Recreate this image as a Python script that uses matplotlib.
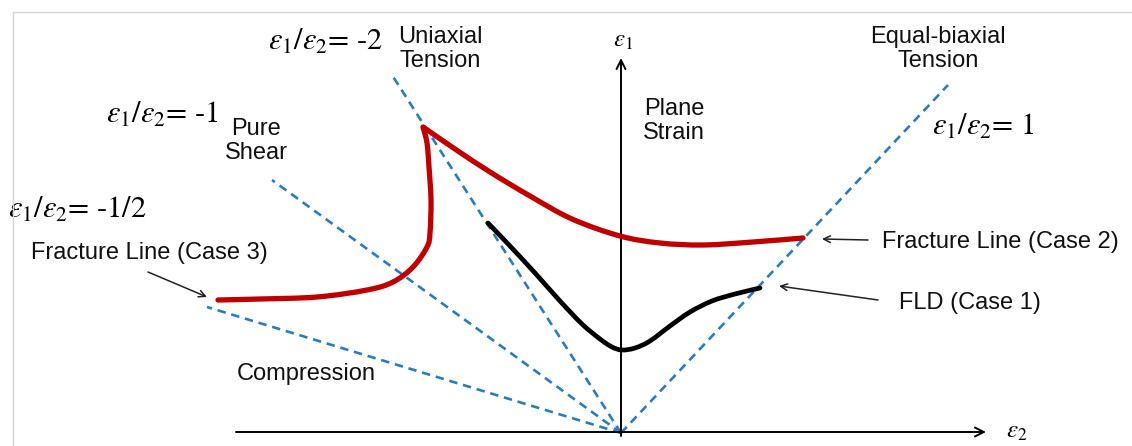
import matplotlib
matplotlib.use("Agg")
import numpy as np
import matplotlib.pyplot as plt
from matplotlib.lines import Line2D
from matplotlib.path import Path
from matplotlib.patches import PathPatch

plt.rcParams["mathtext.fontset"] = "stix"

# Strain-path rays from the origin: end points (eps2, eps1) and their ratio labels
ray_eps2 = [3.27, -2.29, -3.49, -4.14]
ray_eps1 = [3.48, 3.58, 2.53, 1.26]
ray_labels = [r"$\varepsilon_1/\varepsilon_2$= 1",
              r"$\varepsilon_1/\varepsilon_2$= -2",
              r"$\varepsilon_1/\varepsilon_2$= -1",
              r"$\varepsilon_1/\varepsilon_2$= -1/2"]

# Fracture line (cases 3 and 2), continuous through the uniaxial cusp
frac_eps2 = [-4.03, -3.61, -3.04, -2.54, -2.28, -2.08, -1.94, -1.91, -1.90,
             -1.92, -1.94, -1.98, -1.66, -1.31, -0.91, -0.49, -0.01, 0.39,
             0.82, 1.32, 1.82]
frac_eps1 = [1.33, 1.34, 1.36, 1.43, 1.51, 1.66, 1.86, 2.00, 2.33,
             2.66, 2.90, 3.06, 2.84, 2.61, 2.37, 2.14, 1.97, 1.90,
             1.88, 1.91, 1.95]
cusp_index = 11

# Forming limit curve (case 1)
fld_eps2 = [-1.33, -1.11, -0.86, -0.61, -0.39, -0.21, -0.09, 0.01, 0.14,
            0.29, 0.49, 0.69, 0.91, 1.14, 1.39]
fld_eps1 = [2.10, 1.87, 1.60, 1.32, 1.09, 0.94, 0.86, 0.83, 0.85,
            0.92, 1.07, 1.21, 1.32, 1.39, 1.45]


def spline_verts(xs, ys):
    """Cubic Bezier vertices of a Catmull-Rom curve through the given points."""
    pts = np.column_stack([xs, ys]).astype(float)
    n = len(pts)
    verts = [pts[0]]
    for i in range(n - 1):
        p0 = pts[i - 1] if i > 0 else pts[i]
        p1, p2 = pts[i], pts[i + 1]
        p3 = pts[i + 2] if i + 2 < n else pts[i + 1]
        verts += [p1 + (p2 - p0) / 6.0, p2 - (p3 - p1) / 6.0, p2]
    return verts


def curve_path(xs, ys, breaks=()):
    """Smooth path through the points, keeping sharp corners at `breaks`."""
    cuts = [0] + list(breaks) + [len(xs) - 1]
    verts = []
    for a, b in zip(cuts[:-1], cuts[1:]):
        part = spline_verts(xs[a:b + 1], ys[a:b + 1])
        verts += part if not verts else part[1:]
    codes = [Path.MOVETO] + [Path.CURVE4] * (len(verts) - 1)
    return Path(verts, codes)


fig = plt.figure(figsize=(11.32, 4.46), dpi=100)
ax = fig.add_axes([0, 0, 1, 1])
ax.set_xlim(-6.21, 5.11)
ax.set_ylim(-0.13, 4.33)
ax.axis("off")

# thin page frame along the top and left edges
fig.add_artist(Line2D([12.5 / 1132, 1], [1 - 11.5 / 446, 1 - 11.5 / 446],
                      transform=fig.transFigure, color="#d4d4d4", lw=1))
fig.add_artist(Line2D([12.5 / 1132, 12.5 / 1132], [0, 1 - 11.5 / 446],
                      transform=fig.transFigure, color="#d4d4d4", lw=1))

blue = "#2b7bbd"
for x_end, y_end in zip(ray_eps2, ray_eps1):
    ax.plot([0, x_end], [0, y_end], color=blue, lw=1.9,
            dashes=(3.2, 2.2), dash_capstyle="butt", zorder=2)

# strain axes
ax.annotate("", xy=(3.65, 0.01), xytext=(-3.85, 0.01),
            arrowprops=dict(arrowstyle="->", lw=1.4, color="black",
                            mutation_scale=16, shrinkA=0, shrinkB=0))
ax.annotate("", xy=(0.0, 3.75), xytext=(0.0, -0.03),
            arrowprops=dict(arrowstyle="->", lw=1.4, color="black",
                            mutation_scale=16, shrinkA=0, shrinkB=0))

ax.add_patch(PathPatch(curve_path(frac_eps2, frac_eps1, breaks=[cusp_index]),
                       fill=False, edgecolor="#c00000", lw=3.8,
                       joinstyle="round", capstyle="round", zorder=3))
ax.add_patch(PathPatch(curve_path(fld_eps2, fld_eps1),
                       fill=False, edgecolor="black", lw=3.4,
                       joinstyle="round", capstyle="round", zorder=3))

sans = dict(family="Liberation Sans", size=17, color="#111111")
serif = dict(family="STIXGeneral", size=22, color="black")

# ratio labels
ax.text(3.11, 3.06, ray_labels[0], ha="left", va="center", **serif)
ax.text(-3.53, 3.91, ray_labels[1], ha="left", va="center", **serif)
ax.text(-5.15, 3.18, ray_labels[2], ha="left", va="center", **serif)
ax.text(-6.13, 2.23, ray_labels[3], ha="left", va="center", **serif)

# axis symbols
ax.text(0.02, 3.92, r"$\varepsilon_1$", ha="center", va="center",
        family="STIXGeneral", size=18)
ax.text(3.96, 0.01, r"$\varepsilon_2$", ha="center", va="center",
        family="STIXGeneral", size=18)

# strain-state labels
ax.text(-1.81, 3.84, "Uniaxial\nTension", ha="center", va="center",
        linespacing=1.15, **sans)
ax.text(-3.65, 2.92, "Pure\nShear", ha="center", va="center",
        linespacing=1.15, **sans)
ax.text(0.53, 3.12, "Plane\nStrain", ha="center", va="center",
        linespacing=1.15, **sans)
ax.text(3.17, 3.84, "Equal-biaxial\nTension", ha="center", va="center",
        linespacing=1.15, **sans)
ax.text(-3.15, 0.59, "Compression", ha="center", va="center", **sans)

# curve callouts
ax.text(-4.72, 1.80, "Fracture Line (Case 3)", ha="center", va="center", **sans)
ax.text(2.61, 1.91, "Fracture Line (Case 2)", ha="left", va="center", **sans)
ax.text(2.78, 1.30, "FLD (Case 1)", ha="left", va="center", **sans)

callout = dict(arrowstyle="->", lw=1.1, color="#222222",
               mutation_scale=12, shrinkA=0, shrinkB=0)
ax.annotate("", xy=(-4.14, 1.36), xytext=(-4.73, 1.61), arrowprops=callout)
ax.annotate("", xy=(2.01, 1.94), xytext=(2.47, 1.93), arrowprops=callout)
ax.annotate("", xy=(1.58, 1.47), xytext=(2.57, 1.33), arrowprops=callout)

fig.savefig("out.png", dpi=100)
